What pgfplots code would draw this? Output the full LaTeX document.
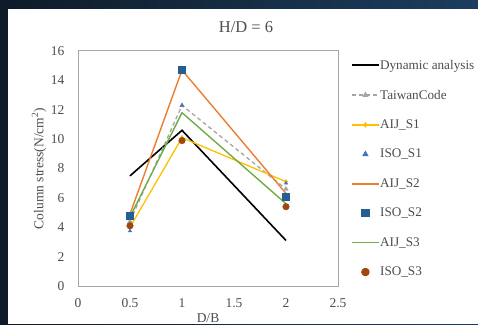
\documentclass[border=0pt]{standalone}
\usepackage{pgfplots}
\pgfplotsset{compat=1.18}
\usepackage{fontspec}
\setmainfont{Liberation Serif}
\definecolor{bgL}{HTML}{0E1B28}
\definecolor{bgR}{HTML}{1C3D5E}
\definecolor{cTaiwan}{HTML}{A5A5A5}
\definecolor{cAIJa}{HTML}{FFC000}
\definecolor{cISOa}{HTML}{4472C4}
\definecolor{cAIJb}{HTML}{ED7D31}
\definecolor{cISOb}{HTML}{255E91}
\definecolor{cAIJc}{HTML}{70AD47}
\definecolor{cISOc}{HTML}{9E480E}
\definecolor{frame}{HTML}{A6A6A6}
\definecolor{txt}{HTML}{4D4D4D}
\begin{document}
\begin{tikzpicture}[x=1pt,y=1pt]
\path[use as bounding box] (0,0) rectangle (478,324);
\fill[left color=bgL,right color=bgR] (0,0) rectangle (478,324);
\fill[white] (8,0) rectangle (478,315);
\node[font=\fontsize{16.5}{18}\selectfont, text=txt] at (246,297) {H/D = 6};
\begin{axis}[
  scale only axis, width=260pt, height=235pt,
  at={(78pt,38pt)}, anchor=south west,
  xmin=0, xmax=2.5, ymin=0, ymax=16,
  xtick={0,0.5,1,1.5,2,2.5}, ytick={0,2,...,16},
  xticklabels={0,0.5,1,1.5,2,2.5},
  major tick length=0pt,
  axis line style={frame, line width=1pt},
  tick label style={font=\fontsize{13.5}{15}\selectfont, text=txt},
  /pgf/number format/assume math mode=true,
  xticklabel style={yshift=-9pt},
  yticklabel style={xshift=-10pt},
  label style={font=\fontsize{13.5}{15}\selectfont, text=txt},
  xlabel={D/B}, ylabel={Column stress(N/cm\textsuperscript{2})},
  xlabel style={at={(axis description cs:0.5,-0.136)}, anchor=center},
  ylabel style={at={(axis description cs:-0.15,0.5)}, anchor=center},
  legend style={draw=none, fill=none, at={(1.05,0.963)}, anchor=north west,
    inner sep=0pt, outer sep=0pt,
    font=\fontsize{13.2}{15}\selectfont,
    row sep=18.6pt, nodes={inner sep=0.3pt, anchor=west}},
  legend cell align=left,
  legend image code/.code={\draw[mark repeat=2,mark phase=2,#1,line width=1.8pt] plot coordinates {(0pt,0pt) (13.5pt,0pt) (27pt,0pt)};},
  clip=false,
]
\addplot[black, line width=1.6pt, mark=none] coordinates {(0.5,7.5) (1,10.6) (2,3.1)};
\addlegendentry{\textcolor{txt}{Dynamic analysis}}
\addplot[cTaiwan, line width=1.3pt, dash pattern=on 4pt off 3pt, mark=triangle*, mark size=1.8pt, mark options={solid}] coordinates {(0.5,4.4) (1,12.3) (2,6.6)};
\addlegendentry{\textcolor{txt}{TaiwanCode}}
\addplot[cAIJa, line width=1.3pt, mark=diamond*, mark size=1.5pt] coordinates {(0.5,4.0) (1,10.1) (2,7.1)};
\addlegendentry{\textcolor{txt}{AIJ\_S1}}
\addplot[cISOa, only marks, mark=triangle*, mark size=2pt] coordinates {(0.5,3.75) (1,12.3) (2,7.0)};
\addlegendentry{\textcolor{txt}{ISO\_S1}}
\addplot[color=cAIJb, line width=1.4pt, mark=none] coordinates {(0.5,4.9) (1,14.7) (2,6.3)};
\addlegendentry{\textcolor{txt}{AIJ\_S2}}
\addplot[cISOb, only marks, mark=square*, mark size=3.4pt] coordinates {(0.5,4.8) (1,14.7) (2,6.1)};
\addlegendentry{\textcolor{txt}{ISO\_S2}}
\addplot[color=cAIJc, line width=1.4pt, mark=none] coordinates {(0.5,4.7) (1,11.8) (2,5.6)};
\addlegendentry{\textcolor{txt}{AIJ\_S3}}
\addplot[cISOc, only marks, mark=*, mark size=3.3pt] coordinates {(0.5,4.1) (1,9.9) (2,5.4)};
\addlegendentry{\textcolor{txt}{ISO\_S3}}
\end{axis}
\end{tikzpicture}
\end{document}
